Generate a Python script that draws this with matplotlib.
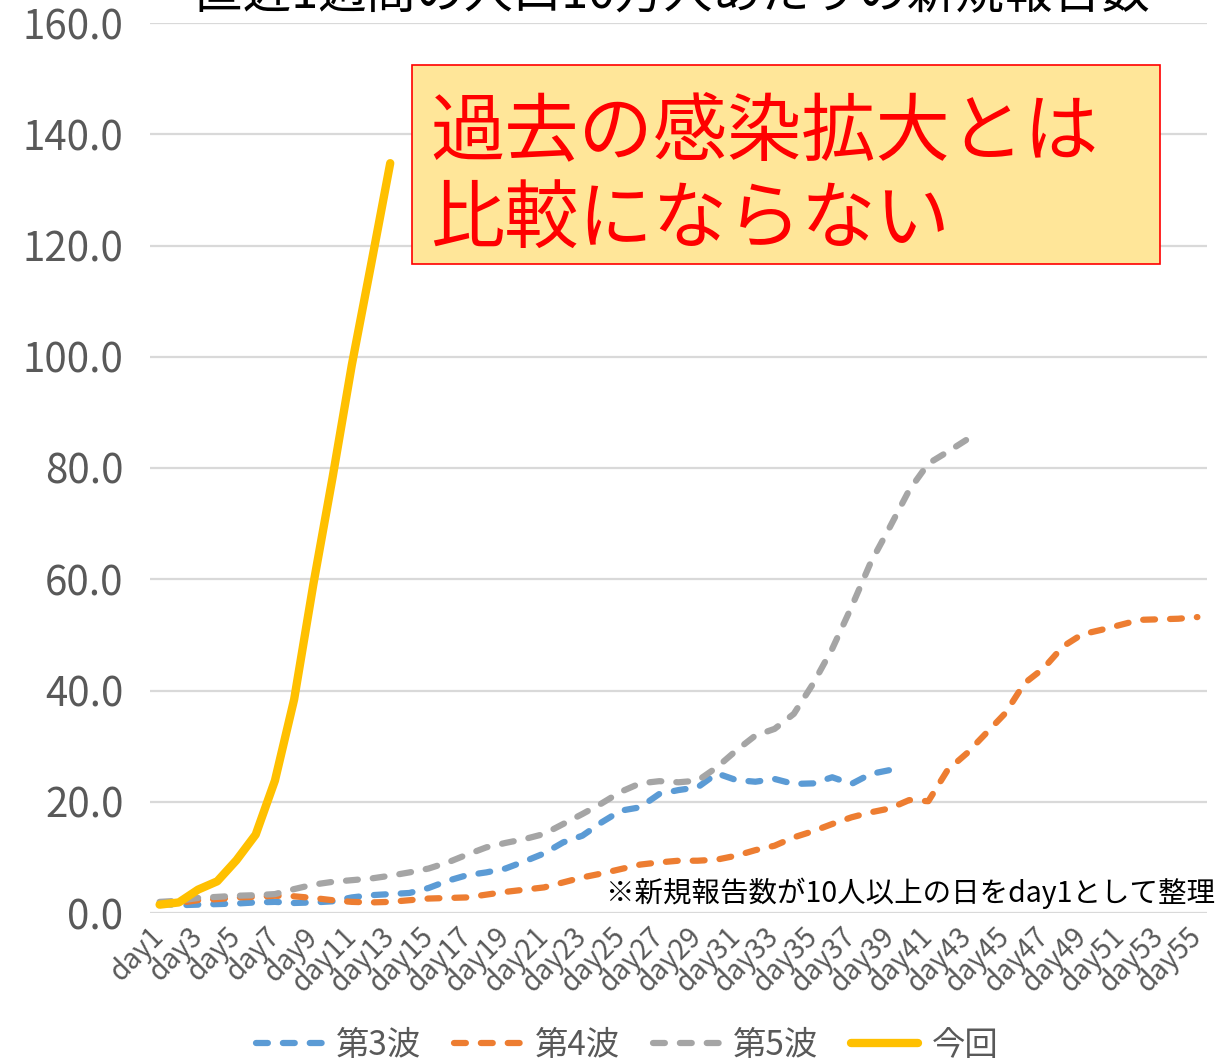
import matplotlib
matplotlib.use('Agg')
import matplotlib.pyplot as plt
from matplotlib.patches import Rectangle

plt.rcParams['font.family'] = ['Noto Sans CJK JP', 'DejaVu Sans']

# data
days = ['day%d' % i for i in range(1, 56)]
wave3 = [1.7, 1.4, 1.5, 1.6, 1.7, 1.9, 2.0, 1.8, 1.9, 2.1, 2.8, 3.2, 3.4, 3.6, 4.5,
         5.8, 6.8, 7.3, 8.0, 9.3, 10.7, 12.7, 13.9, 16.3, 18.4, 19.0, 21.4, 22.1,
         22.6, 25.1, 23.9, 23.6, 24.1, 23.2, 23.3, 24.4, 23.2, 25.0, 25.7]
wave4 = [1.6, 1.8, 2.3, 2.5, 2.8, 2.9, 3.1, 3.0, 2.7, 2.3, 2.0, 1.9, 2.0, 2.3, 2.6,
         2.7, 2.8, 3.3, 3.8, 4.2, 4.6, 5.5, 6.4, 7.1, 7.9, 8.7, 9.1, 9.4, 9.4, 9.6,
         10.3, 11.3, 12.1, 13.6, 14.7, 16.0, 17.2, 18.1, 18.8, 20.3, 20.1, 25.7,
         28.7, 32.3, 35.9, 41.3, 44.0, 47.9, 50.1, 50.9, 51.8, 52.7, 52.8, 52.9, 53.2]
wave5 = [2.0, 2.2, 2.7, 2.9, 3.1, 3.2, 3.4, 4.3, 5.1, 5.6, 5.9, 6.2, 6.7, 7.3, 8.0,
         9.1, 10.5, 11.8, 12.6, 13.3, 14.2, 16.0, 17.8, 19.7, 21.8, 23.3, 23.7, 23.5,
         23.8, 26.2, 29.2, 31.9, 33.1, 35.8, 41.2, 47.5, 55.0, 63.0, 69.4, 76.0,
         80.8, 82.9, 85.1]
current = [1.5, 1.9, 4.2, 5.7, 9.5, 14.1, 23.8, 38.4, 59.1, 78.3, 98.5, 116.5, 134.8]
series_names = ['第3波', '第4波', '第5波', '今回']
yticks = [0, 20, 40, 60, 80, 100, 120, 140, 160]

grey_txt = '#595959'
dash = (0, (1.9, 2.4))

fig = plt.figure(figsize=(12.16, 10.62), dpi=100)
ax = fig.add_axes([150/1216, 149/1062, 1057/1216, 890/1062])

x = list(range(len(days)))
ax.plot(x[:len(wave3)], wave3, color='#5B9BD5', lw=4.5, ls=dash,
        dash_capstyle='round', label=series_names[0])
ax.plot(x[:len(wave4)], wave4, color='#ED7D31', lw=4.5, ls=dash,
        dash_capstyle='round', label=series_names[1])
ax.plot(x[:len(wave5)], wave5, color='#A5A5A5', lw=4.5, ls=dash,
        dash_capstyle='round', label=series_names[2])
ax.plot(x[:len(current)], current, color='#FFC000', lw=6,
        solid_capstyle='round', solid_joinstyle='round', label=series_names[3])

ax.set_xlim(-0.5, len(days) - 0.5)
ax.set_ylim(0, 160)
ax.set_yticks(yticks)
ax.set_yticklabels(['%.1f' % v for v in yticks])
ax.set_xticks(x[::2])
ax.set_xticklabels(days[::2], rotation=45, ha='right', va='center',
                   rotation_mode='anchor')
ax.tick_params(axis='y', length=0, pad=19, labelsize=29, labelcolor=grey_txt)
ax.tick_params(axis='x', length=0, pad=14, labelsize=20, labelcolor=grey_txt)
ax.grid(axis='y', color='#D9D9D9', lw=1.6)
ax.set_axisbelow(True)
for s in ax.spines.values():
    s.set_visible(False)

# title (cut off at top in the original)
fig.text(672/1216, 1 - 7/1062, '直近1週間の人口10万人あたりの新規報告数',
         ha='center', va='baseline', fontsize=35, color='black')

# callout box
box = Rectangle((412/1216, 1 - 264/1062), 748/1216, 199/1062,
                transform=fig.transFigure, facecolor='#FFE699',
                edgecolor='#FF0000', lw=1.2, zorder=5)
fig.patches.append(box)
fig.text(430/1216, 1 - 133/1062, '過去の感染拡大とは', ha='left', va='center',
         fontsize=53.5, color='#FF0000', zorder=6)
fig.text(430/1216, 1 - 220/1062, '比較にならない', ha='left', va='center',
         fontsize=53.5, color='#FF0000', zorder=6)

fig.text(1215/1216, 1 - 893/1062, '※新規報告数が10人以上の日をday1として整理',
         ha='right', va='center', fontsize=20.5, color='black')

fig.legend(loc='center', bbox_to_anchor=(627/1216, 17/1062), ncol=4,
           frameon=False, fontsize=24, handlelength=2.0, handletextpad=0.4,
           columnspacing=1.0, labelcolor=grey_txt)

fig.savefig('out.png', dpi=100)
